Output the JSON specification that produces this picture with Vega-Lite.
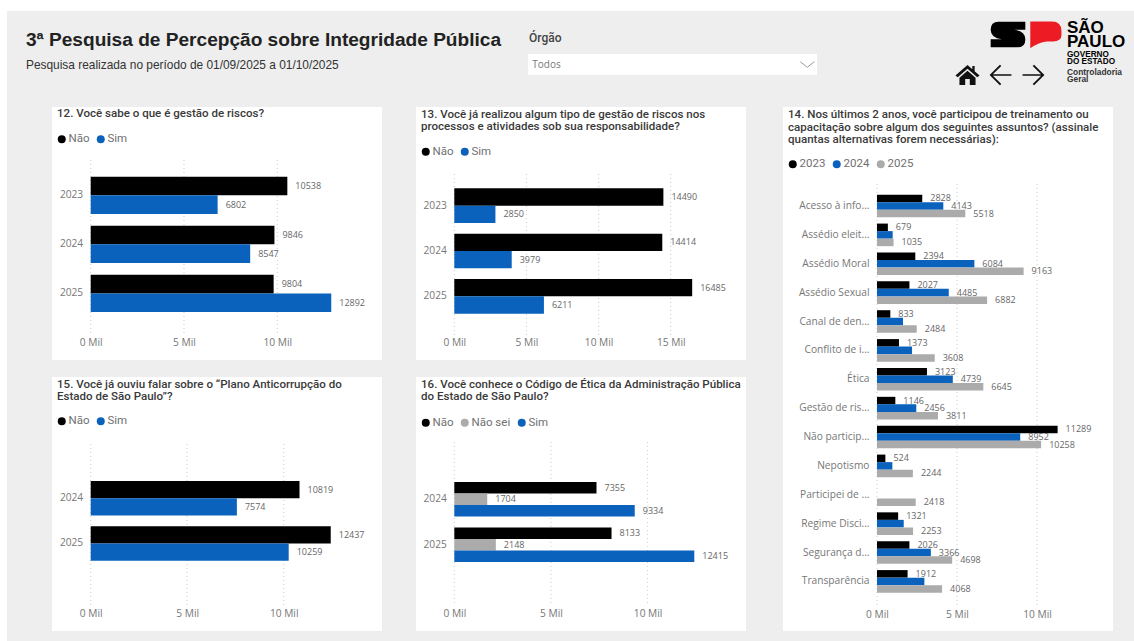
{
"$schema":"https://vega.github.io/schema/vega-lite/v6.json",
"background":"#eeeeee","padding":0,"autosize":{"type":"pad"},
"config":{
 "view":{"stroke":null},
 "title":{"anchor":"start","frame":"group","baseline":"top","dx":5,"font":"Roboto","fontWeight":500,"fontSize":11.55,"color":"#3a3a3a","lineHeight":12.7},
 "axis":{"title":null,"ticks":false,"domain":false,"grid":false,"labelFont":"Open Sans","labelFontSize":10.2,"labelColor":"#777777","labelOverlap":false,"labelFlush":false},
 "legend":{"orient":"none","direction":"horizontal","title":null,"symbolType":"circle","symbolSize":64,"symbolStrokeWidth":0,"labelFont":"Roboto","labelFontSize":11.5,"labelColor":"#707070","labelOffset":1,"columnPadding":5},
 "text":{"font":"Open Sans","fontSize":9,"color":"#666666","align":"left","baseline":"middle"}
},
"spacing":0,
"resolve":{"scale":{"color":"independent","shape":"independent","yOffset":"independent"},"legend":{"color":"independent"}},
"vconcat":[
 {"width":1134,"height":11,"view":{"fill":"#ffffff","stroke":null},"data":{"values":[]},"mark":"rect","encoding":{}},
 {"spacing":0,"resolve":{"scale":{"color":"independent","shape":"independent","yOffset":"independent"},"legend":{"color":"independent"}},"hconcat":[
  {"width":7,"height":630,"view":{"fill":"#ffffff","stroke":null},"data":{"values":[]},"mark":"rect","encoding":{}},
  {"spacing":0,"resolve":{"scale":{"color":"independent","shape":"independent","yOffset":"independent"},"legend":{"color":"independent"}},"vconcat":[
   {"spacing":0,"resolve":{"scale":{"color":"independent","shape":"independent","yOffset":"independent"},"legend":{"color":"independent"}},"hconcat":[
    {"width":521,"height":96,"data":{"values":[]},"mark":"rect","encoding":{},
     "title":{"text":"3ª Pesquisa de Percepção sobre Integridade Pública","subtitle":"Pesquisa realizada no período de 01/09/2025 a 01/10/2025","font":"Liberation Sans","fontWeight":"bold","fontSize":19.1,"color":"#222222","subtitleFont":"Liberation Sans","subtitleFontSize":11.9,"subtitleColor":"#333333","subtitlePadding":10,"dx":19,"offset":-60}},
    {"bounds":"flush","spacing":0,"vconcat":[
     {"width":289,"height":43,"data":{"values":[]},"mark":"rect","encoding":{}},
     {"width":289,"height":21,"view":{"fill":"#ffffff","stroke":null},
      "title":{"text":"Órgão","baseline":"bottom","offset":-3,"dx":1,"fontSize":12,"color":"#444444"},
      "data":{"values":[{"item":"Todos"},{"item":"abrir"}]},
      "encoding":{"x":{"field":"item","type":"nominal","axis":null,"scale":{"type":"point","domain":["Todos","abrir"],"padding":0.0255,"align":0.307}}},
      "layer":[
       {"transform":[{"filter":"datum.item=='Todos'"}],"mark":{"type":"text","font":"Open Sans","fontSize":10,"color":"#777777"},"encoding":{"text":{"field":"item"}}},
       {"transform":[{"filter":"datum.item=='abrir'"}],"mark":{"type":"point","shape":"M-1,-0.4L0,0.4L1,-0.4","filled":false,"stroke":"#999999","strokeWidth":1,"size":196,"opacity":1}}
      ]}
    ]},
    {"spacing":0,"bounds":"flush","resolve":{"scale":{"color":"independent","shape":"independent"}},"vconcat":[
     {"width":250,"height":47,"data":{"values":[{"marca":"S"},{"marca":"P"}]},
      "mark":{"type":"point","filled":true,"opacity":1,"size":1200,"strokeWidth":0},
      "encoding":{
       "x":{"field":"marca","type":"nominal","axis":null,"scale":{"type":"point","domain":["S","P"],"padding":0,"range":[191,228]}},
       "shape":{"field":"marca","type":"nominal","legend":null,"scale":{"domain":["S","P"],"range":["M-0.55,-0.74L1,-0.74L1,-0.28L0.35,-0.28Q1,-0.2 1,0.28L1,0.3Q1,0.74 0.55,0.74L-1,0.74L-1,0.28L-0.35,0.28Q-1,0.2 -1,-0.28Q-1,-0.74 -0.55,-0.74Z","M-0.85,-0.75L0.4,-0.75Q0.95,-0.75 0.95,-0.2L0.95,0.05Q0.95,0.4 0.45,0.4L0.1,0.4Q-0.4,0.45 -0.85,0.8Z"]}},
       "color":{"field":"marca","type":"nominal","legend":null,"scale":{"domain":["S","P"],"range":["#000000","#ed1c24"]}}
      }},
     {"width":250,"height":34,"data":{"values":[{"botao":"início"},{"botao":"voltar"},{"botao":"avançar"}]},
      "mark":{"type":"point","filled":true,"opacity":1,"size":529,"strokeWidth":0,"color":"#111111"},
      "encoding":{
       "x":{"field":"botao","type":"nominal","axis":null,"scale":{"type":"point","domain":["início","voltar","avançar"],"padding":0,"range":[150.5,216.5]}},
       "shape":{"field":"botao","type":"nominal","legend":null,"scale":{"domain":["início","voltar","avançar"],"range":[
        "M0,-0.88L0.42,-0.5L0.42,-0.78L0.62,-0.78L0.62,-0.32L1.05,0.04L0.85,0.2L0,-0.55L-0.85,0.2L-1.05,0.04ZM0,-0.36L0.7,0.24L0.7,0.88L0.2,0.88L0.2,0.34L-0.2,0.34L-0.2,0.88L-0.7,0.88L-0.7,0.24Z",
        "M-0.95,0L-0.05,-0.9L0.07,-0.78L-0.66,-0.07L0.95,-0.07L0.95,0.07L-0.66,0.07L0.07,0.78L-0.05,0.9Z",
        "M0.95,0L0.05,-0.9L-0.07,-0.78L0.66,-0.07L-0.95,-0.07L-0.95,0.07L0.66,0.07L-0.07,0.78L0.05,0.9Z"]}}
      }}
    ]},
    {"width":67,"height":96,"data":{"values":[
      {"linha":"SÃO","bloco":"marca"},{"linha":"PAULO","bloco":"marca"},{"linha":"GOVERNO","bloco":"governo"},{"linha":"DO ESTADO","bloco":"governo"},{"linha":"Controladoria","bloco":"orgao"},{"linha":"Geral","bloco":"orgao"}]},
     "encoding":{
      "x":{"datum":"marca","type":"nominal","axis":null,"scale":{"type":"point","domain":["marca"],"padding":0,"align":0}},
      "y":{"field":"linha","type":"nominal","axis":null,"scale":{"type":"point","domain":["SÃO","a","PAULO","b","GOVERNO","DO ESTADO","Controladoria","Geral"],"padding":0,"range":[17,66]}},
      "text":{"field":"linha"}
     },
     "layer":[
      {"transform":[{"filter":"datum.bloco=='marca'"}],"mark":{"type":"text","font":"Liberation Sans","fontWeight":"bold","fontSize":17,"color":"#000000"}},
      {"transform":[{"filter":"datum.bloco=='governo'"}],"mark":{"type":"text","font":"Liberation Sans","fontWeight":"bold","fontSize":8.2,"color":"#000000","dy":-1}},
      {"transform":[{"filter":"datum.bloco=='orgao'"}],"mark":{"type":"text","font":"Liberation Sans","fontWeight":"bold","fontSize":8.4,"color":"#333333","dy":2}}
     ]}
   ]},
   {"spacing":0,"resolve":{"scale":{"color":"independent","shape":"independent","yOffset":"independent"},"legend":{"color":"independent"}},"hconcat":[
    {"width":45,"height":524,"data":{"values":[]},"mark":"rect","encoding":{}},
    {"bounds":"flush","spacing":17,"resolve":{"scale":{"color":"independent","yOffset":"independent"},"legend":{"color":"independent"}},"vconcat":[
     {"width":330,"height":253,"view":{"fill":"#ffffff","stroke":null},
      "title":{"text":"12. Você sabe o que é gestão de riscos?","offset":-13},
      "data":{"values":[
       {"ano":"2023","resposta":"Não","total":10538},{"ano":"2023","resposta":"Sim","total":6802},
       {"ano":"2024","resposta":"Não","total":9846},{"ano":"2024","resposta":"Sim","total":8547},
       {"ano":"2025","resposta":"Não","total":9804},{"ano":"2025","resposta":"Sim","total":12892}]},
      "resolve":{"scale":{"y":"independent"}},
      "layer":[
       {"data":{"values":[{"tick":0},{"tick":5000},{"tick":10000}]},"mark":{"type":"rule","color":"#cccccc","strokeDash":[1,3]},
        "encoding":{"x":{"field":"tick","type":"quantitative","scale":{"domain":[-2074,15611],"nice":false},"axis":{"values":[0,5000,10000],"labelExpr":"datum.value/1000 + ' Mil'","offset":-27,"labelPadding":4}},
         "y":{"datum":0,"type":"quantitative","axis":null,"scale":{"domain":[-0.154,1.291],"nice":false}},"y2":{"datum":1}}},
       {"mark":{"type":"bar"},"encoding":{
         "x":{"field":"total","type":"quantitative"},
         "y":{"field":"ano","type":"nominal","axis":{"offset":-38.7,"labelPadding":8},"scale":{"domain":["2023","2024","2025"],"paddingInner":0.242,"paddingOuter":0,"range":[69.7,205]}},
         "yOffset":{"field":"resposta","type":"nominal","scale":{"domain":["Não","Sim"]}},
         "color":{"field":"resposta","type":"nominal","scale":{"domain":["Não","Sim"],"range":["#000000","#0a62bd"]},"legend":{"legendX":4,"legendY":26}}}},
       {"mark":{"type":"text","dx":8},"encoding":{
         "x":{"field":"total","type":"quantitative"},
         "y":{"field":"ano","type":"nominal","axis":null,"scale":{"domain":["2023","2024","2025"],"paddingInner":0.242,"paddingOuter":0,"range":[69.7,205]}},
         "yOffset":{"field":"resposta","type":"nominal","scale":{"domain":["Não","Sim"]}},
         "text":{"field":"total"}}}
      ]},
     {"width":330,"height":254,"view":{"fill":"#ffffff","stroke":null},
      "title":{"text":["15. Você já ouviu falar sobre o “Plano Anticorrupção do","Estado de São Paulo”?"],"offset":-26},
      "data":{"values":[
       {"ano":"2024","resposta":"Não","total":10819},{"ano":"2024","resposta":"Sim","total":7574},
       {"ano":"2025","resposta":"Não","total":12437},{"ano":"2025","resposta":"Sim","total":10259}]},
      "resolve":{"scale":{"y":"independent"}},
      "layer":[
       {"data":{"values":[{"tick":0},{"tick":5000},{"tick":10000}]},"mark":{"type":"rule","color":"#cccccc","strokeDash":[1,3]},
        "encoding":{"x":{"field":"tick","type":"quantitative","scale":{"domain":[-2005,15093],"nice":false},"axis":{"values":[0,5000,10000],"labelExpr":"datum.value/1000 + ' Mil'","offset":-27,"labelPadding":4}},
         "y":{"datum":0,"type":"quantitative","axis":null,"scale":{"domain":[-0.1585,1.39],"nice":false}},"y2":{"datum":1}}},
       {"mark":{"type":"bar"},"encoding":{
         "x":{"field":"total","type":"quantitative"},
         "y":{"field":"ano","type":"nominal","axis":{"offset":-38.7,"labelPadding":8},"scale":{"domain":["2024","2025"],"paddingInner":0.24,"paddingOuter":0,"range":[104,183.7]}},
         "yOffset":{"field":"resposta","type":"nominal","scale":{"domain":["Não","Sim"]}},
         "color":{"field":"resposta","type":"nominal","scale":{"domain":["Não","Sim"],"range":["#000000","#0a62bd"]},"legend":{"legendX":4,"legendY":38}}}},
       {"mark":{"type":"text","dx":8},"encoding":{
         "x":{"field":"total","type":"quantitative"},
         "y":{"field":"ano","type":"nominal","axis":null,"scale":{"domain":["2024","2025"],"paddingInner":0.24,"paddingOuter":0,"range":[104,183.7]}},
         "yOffset":{"field":"resposta","type":"nominal","scale":{"domain":["Não","Sim"]}},
         "text":{"field":"total"}}}
      ]}
    ]},
    {"width":34,"height":524,"data":{"values":[]},"mark":"rect","encoding":{}},
    {"bounds":"flush","spacing":17,"resolve":{"scale":{"color":"independent","yOffset":"independent"},"legend":{"color":"independent"}},"vconcat":[
     {"width":330,"height":253,"view":{"fill":"#ffffff","stroke":null},
      "title":{"text":["13. Você já realizou algum tipo de gestão de riscos nos","processos e atividades sob sua responsabilidade?"],"offset":-26},
      "data":{"values":[
       {"ano":"2023","resposta":"Não","total":14490},{"ano":"2023","resposta":"Sim","total":2850},
       {"ano":"2024","resposta":"Não","total":14414},{"ano":"2024","resposta":"Sim","total":3979},
       {"ano":"2025","resposta":"Não","total":16485},{"ano":"2025","resposta":"Sim","total":6211}]},
      "resolve":{"scale":{"y":"independent"}},
      "layer":[
       {"data":{"values":[{"tick":0},{"tick":5000},{"tick":10000},{"tick":15000}]},"mark":{"type":"rule","color":"#cccccc","strokeDash":[1,3]},
        "encoding":{"x":{"field":"tick","type":"quantitative","scale":{"domain":[-2654,20215],"nice":false},"axis":{"values":[0,5000,10000,15000],"labelExpr":"datum.value/1000 + ' Mil'","offset":-27,"labelPadding":4}},
         "y":{"datum":0,"type":"quantitative","axis":null,"scale":{"domain":[-0.153,1.396],"nice":false}},"y2":{"datum":1}}},
       {"mark":{"type":"bar"},"encoding":{
         "x":{"field":"total","type":"quantitative"},
         "y":{"field":"ano","type":"nominal","axis":{"offset":-38.3,"labelPadding":8},"scale":{"domain":["2023","2024","2025"],"paddingInner":0.235,"paddingOuter":0,"range":[81.3,206.7]}},
         "yOffset":{"field":"resposta","type":"nominal","scale":{"domain":["Não","Sim"]}},
         "color":{"field":"resposta","type":"nominal","scale":{"domain":["Não","Sim"],"range":["#000000","#0a62bd"]},"legend":{"legendX":4,"legendY":38.7}}}},
       {"mark":{"type":"text","dx":8},"encoding":{
         "x":{"field":"total","type":"quantitative"},
         "y":{"field":"ano","type":"nominal","axis":null,"scale":{"domain":["2023","2024","2025"],"paddingInner":0.235,"paddingOuter":0,"range":[81.3,206.7]}},
         "yOffset":{"field":"resposta","type":"nominal","scale":{"domain":["Não","Sim"]}},
         "text":{"field":"total"}}}
      ]},
     {"width":330,"height":254,"view":{"fill":"#ffffff","stroke":null},
      "title":{"text":["16. Você conhece o Código de Ética da Administração Pública","do Estado de São Paulo?"],"offset":-26},
      "data":{"values":[
       {"ano":"2024","resposta":"Não","total":7355},{"ano":"2024","resposta":"Não sei","total":1704},{"ano":"2024","resposta":"Sim","total":9334},
       {"ano":"2025","resposta":"Não","total":8133},{"ano":"2025","resposta":"Não sei","total":2148},{"ano":"2025","resposta":"Sim","total":12415}]},
      "resolve":{"scale":{"y":"independent"}},
      "layer":[
       {"data":{"values":[{"tick":0},{"tick":5000},{"tick":10000}]},"mark":{"type":"rule","color":"#cccccc","strokeDash":[1,3]},
        "encoding":{"x":{"field":"tick","type":"quantitative","scale":{"domain":[-1982,15089],"nice":false},"axis":{"values":[0,5000,10000],"labelExpr":"datum.value/1000 + ' Mil'","offset":-27,"labelPadding":4}},
         "y":{"datum":0,"type":"quantitative","axis":null,"scale":{"domain":[-0.1736,1.401],"nice":false}},"y2":{"datum":1}}},
       {"mark":{"type":"bar"},"encoding":{
         "x":{"field":"total","type":"quantitative"},
         "y":{"field":"ano","type":"nominal","axis":{"offset":-38.3,"labelPadding":8},"scale":{"domain":["2024","2025"],"paddingInner":0.242,"paddingOuter":0,"range":[105,185]}},
         "yOffset":{"field":"resposta","type":"nominal","scale":{"domain":["Não","Não sei","Sim"]}},
         "color":{"field":"resposta","type":"nominal","scale":{"domain":["Não","Não sei","Sim"],"range":["#000000","#ababab","#0a62bd"]},"legend":{"legendX":4,"legendY":39.7}}}},
       {"mark":{"type":"text","dx":8},"encoding":{
         "x":{"field":"total","type":"quantitative"},
         "y":{"field":"ano","type":"nominal","axis":null,"scale":{"domain":["2024","2025"],"paddingInner":0.242,"paddingOuter":0,"range":[105,185]}},
         "yOffset":{"field":"resposta","type":"nominal","scale":{"domain":["Não","Não sei","Sim"]}},
         "text":{"field":"total"}}}
      ]}
    ]},
    {"width":37,"height":524,"data":{"values":[]},"mark":"rect","encoding":{}},
    {"width":330,"height":524,"view":{"fill":"#ffffff","stroke":null},
     "title":{"text":["14. Nos últimos 2 anos, você participou de treinamento ou","capacitação sobre algum dos seguintes assuntos? (assinale","quantas alternativas forem necessárias):"],"offset":-39},
     "data":{"values":[
      {"assunto":"Acesso à info...","ano":"2023","total":2828},{"assunto":"Acesso à info...","ano":"2024","total":4143},{"assunto":"Acesso à info...","ano":"2025","total":5518},
      {"assunto":"Assédio eleit...","ano":"2023","total":679},{"assunto":"Assédio eleit...","ano":"2024","total":980},{"assunto":"Assédio eleit...","ano":"2025","total":1035},
      {"assunto":"Assédio Moral","ano":"2023","total":2394},{"assunto":"Assédio Moral","ano":"2024","total":6084},{"assunto":"Assédio Moral","ano":"2025","total":9163},
      {"assunto":"Assédio Sexual","ano":"2023","total":2027},{"assunto":"Assédio Sexual","ano":"2024","total":4485},{"assunto":"Assédio Sexual","ano":"2025","total":6882},
      {"assunto":"Canal de den...","ano":"2023","total":833},{"assunto":"Canal de den...","ano":"2024","total":1625},{"assunto":"Canal de den...","ano":"2025","total":2484},
      {"assunto":"Conflito de i...","ano":"2023","total":1373},{"assunto":"Conflito de i...","ano":"2024","total":2190},{"assunto":"Conflito de i...","ano":"2025","total":3608},
      {"assunto":"Ética","ano":"2023","total":3123},{"assunto":"Ética","ano":"2024","total":4739},{"assunto":"Ética","ano":"2025","total":6645},
      {"assunto":"Gestão de ris...","ano":"2023","total":1146},{"assunto":"Gestão de ris...","ano":"2024","total":2456},{"assunto":"Gestão de ris...","ano":"2025","total":3811},
      {"assunto":"Não particip...","ano":"2023","total":11289},{"assunto":"Não particip...","ano":"2024","total":8952},{"assunto":"Não particip...","ano":"2025","total":10258},
      {"assunto":"Nepotismo","ano":"2023","total":524},{"assunto":"Nepotismo","ano":"2024","total":960},{"assunto":"Nepotismo","ano":"2025","total":2244},
      {"assunto":"Participei de ...","ano":"2025","total":2418},
      {"assunto":"Regime Disci...","ano":"2023","total":1321},{"assunto":"Regime Disci...","ano":"2024","total":1670},{"assunto":"Regime Disci...","ano":"2025","total":2253},
      {"assunto":"Segurança d...","ano":"2023","total":2026},{"assunto":"Segurança d...","ano":"2024","total":3366},{"assunto":"Segurança d...","ano":"2025","total":4698},
      {"assunto":"Transparência","ano":"2023","total":1912},{"assunto":"Transparência","ano":"2024","total":2960},{"assunto":"Transparência","ano":"2025","total":4068}]},
     "resolve":{"scale":{"y":"independent"}},
     "layer":[
      {"data":{"values":[{"tick":0},{"tick":5000},{"tick":10000}]},"mark":{"type":"rule","color":"#cccccc","strokeDash":[1,3]},
       "encoding":{"x":{"field":"tick","type":"quantitative","scale":{"domain":[-5875,14750],"nice":false},"axis":{"values":[0,5000,10000],"labelExpr":"datum.value/1000 + ' Mil'","offset":-26,"labelPadding":4}},
        "y":{"datum":0,"type":"quantitative","axis":null,"scale":{"domain":[-0.0614,1.176],"nice":false}},"y2":{"datum":1}}},
      {"mark":{"type":"bar"},"encoding":{
        "x":{"field":"total","type":"quantitative"},
        "y":{"field":"assunto","type":"nominal","axis":{"offset":-94,"labelPadding":8},"scale":{"domain":["Acesso à info...","Assédio eleit...","Assédio Moral","Assédio Sexual","Canal de den...","Conflito de i...","Ética","Gestão de ris...","Não particip...","Nepotismo","Participei de ...","Regime Disci...","Segurança d...","Transparência"],"paddingInner":0.217,"paddingOuter":0,"range":[87.7,485.7]}},
        "yOffset":{"field":"ano","type":"nominal","scale":{"domain":["2023","2024","2025"]}},
        "color":{"field":"ano","type":"nominal","scale":{"domain":["2023","2024","2025"],"range":["#000000","#0a62bd","#ababab"]},"legend":{"legendX":4,"legendY":51}}}},
      {"transform":[{"filter":"!(datum.ano=='2024' && indexof(['Assédio eleit...','Canal de den...','Conflito de i...','Nepotismo','Regime Disci...','Transparência'],datum.assunto)>=0)"}],
       "mark":{"type":"text","dx":8},"encoding":{
        "x":{"field":"total","type":"quantitative"},
        "y":{"field":"assunto","type":"nominal","axis":null,"scale":{"domain":["Acesso à info...","Assédio eleit...","Assédio Moral","Assédio Sexual","Canal de den...","Conflito de i...","Ética","Gestão de ris...","Não particip...","Nepotismo","Participei de ...","Regime Disci...","Segurança d...","Transparência"],"paddingInner":0.217,"paddingOuter":0,"range":[87.7,485.7]}},
        "yOffset":{"field":"ano","type":"nominal","scale":{"domain":["2023","2024","2025"]}},
        "text":{"field":"total"}}}
     ]},
    {"width":21,"height":524,"data":{"values":[]},"mark":"rect","encoding":{}}
   ]}
  ]}
 ]}
]}
